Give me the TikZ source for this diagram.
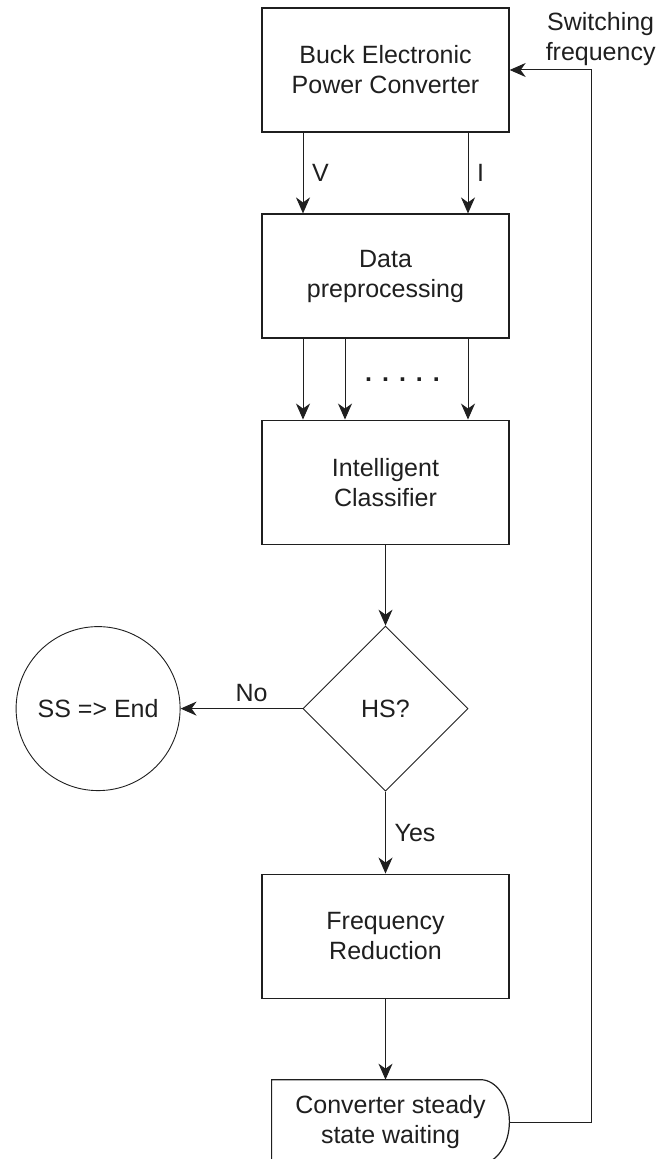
\documentclass[tikz,border=0pt]{standalone}
\usepackage{fontspec}
\setmainfont{Liberation Sans}
\usetikzlibrary{arrows.meta, positioning, shapes.geometric, calc}

\begin{document}
\begin{tikzpicture}[x=0.5pt, y=-0.5pt, node distance=40.4pt,
  >={Stealth[length=8pt, width=7pt, inset=2.5pt]},
  font=\fontsize{12.5}{15}\selectfont, color=black!88,
  block/.style={draw, rectangle, line width=0.65pt, align=center, inner sep=0pt,
    minimum width=123.5pt, minimum height=62pt},
  decision/.style={draw, diamond, aspect=1, line width=0.45pt, inner sep=0pt,
    minimum width=82.5pt, minimum height=82.5pt},
  terminal/.style={draw, circle, line width=0.45pt, inner sep=0pt, minimum size=82pt},
  flow/.style={->, line width=0.5pt}]
  \useasboundingbox (0,0) rectangle (672,1159);

  \node [block] (buck) at (385.5,70) {Buck Electronic\\Power Converter};
  \node [block, below=of buck] (prep) {Data\\preprocessing};
  \node [block, below=of prep] (class) {Intelligent\\Classifier};
  \node [decision, below=of class] (hs) {HS?};
  \node [terminal, left=61pt of hs] (stop) {SS => End};
  \node [block, below=41pt of hs] (freq) {Frequency\\Reduction};
  \node [align=center, inner sep=0pt, minimum width=118.5pt, minimum height=42pt,
    below=of freq, xshift=2.5pt] (wait) {Converter steady\\state waiting};
  % delay shape round the waiting node
  \draw [line width=0.6pt] (wait.south west) -- (wait.north west)
    -- ([xshift=-14.5pt]wait.north east)
    arc [start angle=90, end angle=-90, x radius=14.5pt, y radius=21pt] -- cycle;

  \draw [flow] ([xshift=-41.25pt]buck.south) -- ([xshift=-41.25pt]prep.north)
    node [midway, right, xshift=1pt] {V};
  \draw [flow] ([xshift=41.25pt]buck.south) -- ([xshift=41.25pt]prep.north)
    node [midway, right, xshift=1pt] {I};

  \draw [flow] ([xshift=-41.25pt]prep.south) -- ([xshift=-41.25pt]class.north);
  \draw [flow] ([xshift=-20.25pt]prep.south) -- ([xshift=-20.25pt]class.north);
  \draw [flow] ([xshift=41.25pt]prep.south) -- ([xshift=41.25pt]class.north);
  \node (dots) at ($(prep.south)!0.5!(class.north)+(8.5pt,0)$)
    {\textbf{.\hspace{5pt}.\hspace{5pt}.\hspace{5pt}.\hspace{5pt}.}};

  \draw [flow] (class) -- (hs);
  \draw [flow] (hs) -- (stop) node [midway, above, xshift=5pt] {No};
  \draw [flow] (hs) -- (freq) node [midway, right, xshift=1pt] {Yes};
  \draw [flow] (freq.south) -- (freq.south |- wait.north);

  \draw [flow] (wait.east) -- ++(41pt,0) |- (buck.east);
  \node [align=center, anchor=south, inner sep=0pt, yshift=2pt] (swlabel)
    at ($(buck.east)+(45.5pt,0)$) {Switching\\frequency};
\end{tikzpicture}
\end{document}
